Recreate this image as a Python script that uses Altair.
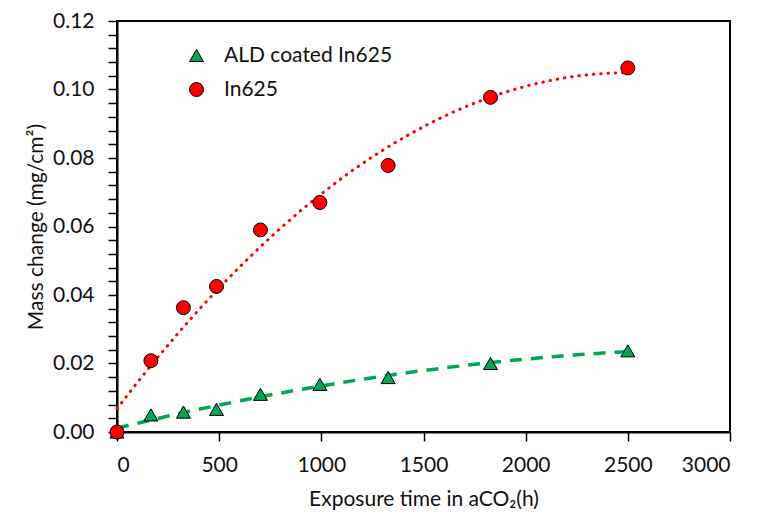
import altair as alt
import pandas as pd

# Data
times = [0, 166, 325, 487, 702, 993, 1327, 1828, 2500]
in625 = [0.0, 0.0208, 0.0363, 0.0425, 0.0590, 0.0670, 0.0778, 0.0977, 0.1063]
ald = [0.0, 0.0050, 0.0058, 0.0066, 0.0110, 0.0139, 0.0159, 0.0200, 0.0237]
series_names = ["ALD coated In625", "In625"]
series_colors = ["#00A651", "#FF0000"]
series_shapes = ["triangle-up", "circle"]
x_ticks = [0, 500, 1000, 1500, 2000, 2500, 3000]
y_ticks = [round(i * 0.004, 3) for i in range(31)]

rows = []
for t, v in zip(times, ald):
    rows.append({"t": t, "m": v, "s": series_names[0]})
for t, v in zip(times, in625):
    rows.append({"t": t, "m": v, "s": series_names[1]})
df = pd.DataFrame(rows)

FONT = "Lato"

xenc = alt.X("t:Q", scale=alt.Scale(domain=[0, 3000], nice=False),
             axis=alt.Axis(values=x_ticks, format="d", title="Exposure time in aCO₂(h)", grid=False))
yenc = alt.Y("m:Q", scale=alt.Scale(domain=[0, 0.12], nice=False),
             axis=alt.Axis(values=y_ticks, title="Mass change (mg/cm²)", grid=False,
                           labelExpr="abs(datum.value*50 - round(datum.value*50)) < 0.001 ? format(datum.value, '.2f') : ''"))

base = alt.Chart(df)

green_fit = base.transform_filter(alt.datum.s == series_names[0]).transform_regression(
    "t", "m", method="poly", order=2
).mark_line(color=series_colors[0], strokeWidth=3.5, strokeDash=[12, 9]).encode(x=xenc, y=yenc)

red_fit = base.transform_filter(alt.datum.s == series_names[1]).transform_regression(
    "t", "m", method="poly", order=2
).mark_line(color=series_colors[1], strokeWidth=3, strokeDash=[0.5, 6.8], strokeCap="round").encode(x=xenc, y=yenc)

points = base.mark_point(filled=True, opacity=1, stroke="black", strokeWidth=1, size=195).encode(
    x=xenc, y=yenc,
    color=alt.Color("s:N", scale=alt.Scale(domain=series_names, range=series_colors),
                    legend=alt.Legend(title=None, orient="none", legendX=69, legendY=24,
                                      labelFontSize=21, labelFont=FONT, labelColor="#111",
                                      labelLimit=400,
                                      symbolSize=195, symbolStrokeColor="black", symbolStrokeWidth=1,
                                      rowPadding=12, labelOffset=17, padding=0)),
    shape=alt.Shape("s:N", scale=alt.Scale(domain=series_names, range=series_shapes)),
    order=alt.Order("s:N", sort="ascending"),
)

chart = alt.layer(green_fit, red_fit, points).properties(
    width=613, height=411,
    autosize=alt.AutoSizeParams(type="none"),
    padding={"left": 109, "top": 13, "right": 35, "bottom": 80},
).configure_view(stroke="black", strokeWidth=2).configure_axis(
    domainColor="black", domainWidth=2, tickColor="black", tickWidth=1.5, tickSize=9,
    labelFont=FONT, labelFontSize=21, labelColor="#111", titleFont=FONT, titleFontSize=21,
    titleColor="#111", titleFontWeight="normal",
).configure_axisY(titlePadding=6, labelPadding=14).configure_axisX(titlePadding=13, labelPadding=13)

chart.save("out.html", embed_options={"renderer": "svg", "actions": False})
